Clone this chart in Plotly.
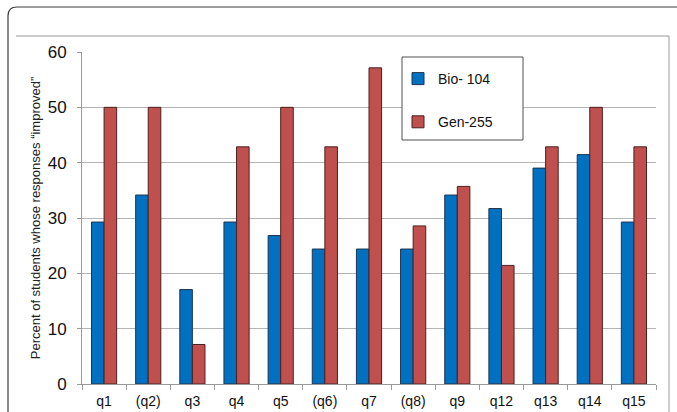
import plotly.graph_objects as go

# Survey questions and the share of students whose answers improved (%)
questions = ["q1", "(q2)", "q3", "q4", "q5", "(q6)", "q7", "(q8)", "q9", "q12", "q13", "q14", "q15"]
bio_104 = [29.27, 34.15, 17.07, 29.27, 26.83, 24.39, 24.39, 24.39, 34.15, 31.71, 39.02, 41.46, 29.27]
gen_255 = [50.0, 50.0, 7.14, 42.86, 50.0, 42.86, 57.14, 28.57, 35.71, 21.43, 42.86, 50.0, 42.86]
y_ticks = [0, 10, 20, 30, 40, 50, 60]

FONT = "Liberation Sans, Arial, sans-serif"

fig = go.Figure()
fig.add_trace(go.Bar(
    x=questions, y=bio_104, name="Bio- 104",
    marker=dict(color="#0070C0", line=dict(color="#1f3550", width=1)),
    legendgroup="a",
))
fig.add_trace(go.Bar(
    x=questions, y=gen_255, name="Gen-255",
    marker=dict(color="#C0504D", line=dict(color="#4a2020", width=1)),
    legendgroup="b",
))

L, R, T, B = 82, 21, 52, 28
W, H = 677, 412
pw, ph = W - L - R, H - T - B


def px(x):
    return (x - L) / pw


def py(y):
    return (H - B - y) / ph


shapes = []
# outer rounded frame
x0, y0 = px(8), py(7)
x1, y1 = px(700), py(440)
rx, ry = 9 / pw, 9 / ph
shapes.append(dict(
    type="path", xref="paper", yref="paper",
    path=(f"M {x0},{y1} L {x0},{y0 - ry} Q {x0},{y0} {x0 + rx},{y0} "
          f"L {x1},{y0}"),
    line=dict(color="#3c3c3c", width=1.2), fillcolor="rgba(0,0,0,0)",
))
# chart area frame
shapes.append(dict(
    type="path", xref="paper", yref="paper",
    path=f"M {px(16)},{py(36)} L {px(669)},{py(36)} L {px(669)},{py(440)}",
    line=dict(color="#9a9a9a", width=1), fillcolor="rgba(0,0,0,0)",
))
# legend box
shapes.append(dict(
    type="rect", xref="paper", yref="paper",
    x0=px(402), x1=px(523), y0=py(140), y1=py(57),
    line=dict(color="#505050", width=1), fillcolor="white", layer="above",
))

fig.update_layout(
    width=W, height=H,
    margin=dict(l=L, r=R, t=T, b=B),
    paper_bgcolor="white", plot_bgcolor="white",
    font=dict(family=FONT, color="#111"),
    barmode="group", bargap=0.43, bargroupgap=0,
    showlegend=True,
    legend=dict(
        x=px(398), y=py(63), xanchor="left", yanchor="top",
        bgcolor="rgba(0,0,0,0)", borderwidth=0,
        font=dict(size=14, family=FONT, color="#111"),
        tracegroupgap=22, traceorder="grouped",
    ),
    shapes=shapes,
    xaxis=dict(
        type="category", showgrid=False, automargin=False,
        showline=True, linecolor="#9a9a9a", linewidth=1,
        ticks="outside", tickson="boundaries", ticklen=5, tickcolor="#9a9a9a",
        tickfont=dict(size=14, family=FONT, color="#111"),
        ticklabelstandoff=4,
    ),
    yaxis=dict(
        range=[0, 60], tickvals=y_ticks, automargin=False,
        showgrid=True, gridcolor="#b4b4b4", gridwidth=1,
        showline=True, linecolor="#9a9a9a", linewidth=1,
        ticks="outside", ticklen=4, tickcolor="#9a9a9a",
        tickfont=dict(size=17, family=FONT, color="#111"),
        ticklabelstandoff=7,
        zeroline=False,
        title=dict(text="Percent of students whose responses \u201cimproved\u201d",
                   font=dict(size=13, family=FONT, color="#222"), standoff=4),
    ),
)

fig.write_html("out.html")
